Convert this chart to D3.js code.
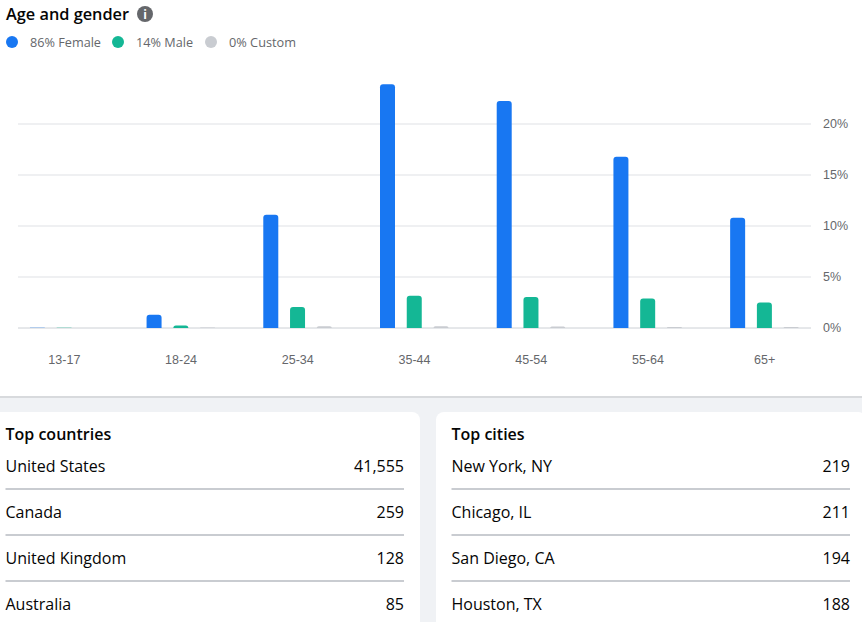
<!DOCTYPE html>
<html>
<head>
<meta charset="utf-8">
<script src="https://cdn.jsdelivr.net/npm/d3@7"></script>
<style>
  html, body { margin: 0; padding: 0; background: #f0f2f5; overflow: hidden; }
  svg { display: block; font-family: "Open Sans", "Noto Sans", sans-serif; }
</style>
</head>
<body>
<div id="chart"></div>
<script>
// values
const ageGroups = ["13-17", "18-24", "25-34", "35-44", "45-54", "55-64", "65+"];
const female = [0.02, 1.3, 11.1, 23.9, 22.25, 16.8, 10.8];
const male = [0.02, 0.25, 2.05, 3.15, 3.05, 2.9, 2.5];
const custom = [0, 0.05, 0.18, 0.18, 0.15, 0.1, 0.1];
const yTicks = [0, 5, 10, 15, 20];

const legendLabels = ["86% Female", "14% Male", "0% Custom"];
const seriesColors = ["#1877f2", "#14b795", "#c9ccd1"];

const countries = ["United States", "Canada", "United Kingdom", "Australia"];
const countryCounts = [41555, 259, 128, 85];
const cities = ["New York, NY", "Chicago, IL", "San Diego, CA", "Houston, TX"];
const cityCounts = [219, 211, 194, 188];

const width = 862;
const height = 622;
const textGray = "#65676b";

const svg = d3.select("#chart")
    .append("svg")
    .attr("width", width)
    .attr("height", height)
    .attr("viewBox", `0 0 ${width} ${height}`);

// page background and top panel
svg.append("rect").attr("width", width).attr("height", height).attr("fill", "#f0f2f5");
svg.append("rect").attr("y", 396).attr("width", width).attr("height", 2).attr("fill", "#d8dadd");
svg.append("rect").attr("width", width).attr("height", 396).attr("fill", "#fff");

// title
svg.append("text")
    .attr("x", 6).attr("y", 20)
    .attr("font-size", 16).attr("font-weight", 600).attr("fill", "#050505")
    .attr("textLength", 123).attr("lengthAdjust", "spacingAndGlyphs")
    .text("Age and gender");
svg.append("circle").attr("cx", 145).attr("cy", 14).attr("r", 8).attr("fill", "#65676b");
svg.append("text")
    .attr("x", 145).attr("y", 18.5).attr("text-anchor", "middle")
    .attr("font-size", 12).attr("font-weight", 700).attr("fill", "#fff")
    .text("i");

// legend
const legendX = [12, 118, 211];
const legendTextWidth = [71, 57, 67];
const legend = svg.append("g").selectAll("g")
    .data(legendLabels)
    .join("g")
    .attr("transform", (d, i) => `translate(${legendX[i]},42)`);
legend.append("circle").attr("r", 6).attr("fill", (d, i) => seriesColors[i]);
legend.append("text")
    .attr("x", 18).attr("y", 4.5)
    .attr("font-size", 12).attr("font-weight", 500).attr("fill", textGray)
    .attr("textLength", (d, i) => legendTextWidth[i]).attr("lengthAdjust", "spacingAndGlyphs")
    .text(d => d);

// scales
const x = d3.scaleBand().domain(ageGroups).range([6, 823]);
const y = d3.scaleLinear().domain([0, 20]).range([328, 124]);
const seriesX = d3.scalePoint().domain([0, 1, 2]).range([-27, 26.5]);
const barWidth = 15;

// axes
const yAxis = svg.append("g")
    .attr("transform", "translate(811,-0.5)")
    .call(d3.axisRight(y).tickValues(yTicks).tickFormat(d => `${d}%`).tickSize(-793).tickPadding(12));
yAxis.select(".domain").remove();
yAxis.selectAll("line").attr("stroke", d => d === 0 ? "#ccd0d5" : "#dfe1e5").attr("stroke-width", 1);
yAxis.selectAll("text").attr("font-size", 12.5).attr("font-family", "inherit").attr("fill", textGray);

const xAxis = svg.append("g")
    .attr("transform", "translate(0,328)")
    .call(d3.axisBottom(x).tickSize(0).tickPadding(27));
xAxis.select(".domain").remove();
xAxis.selectAll("text").attr("font-size", 12.5).attr("font-family", "inherit").attr("fill", textGray);

// bars, rounded on top only
function barPath(cx, v) {
    const top = y(v);
    const h = y(0) - top;
    const left = cx - barWidth / 2;
    const r = Math.min(3, h);
    return `M${left},${y(0)}V${top + r}Q${left},${top} ${left + r},${top}` +
        `H${left + barWidth - r}Q${left + barWidth},${top} ${left + barWidth},${top + r}V${y(0)}Z`;
}
[female, male, custom].forEach((values, s) => {
    svg.append("g").selectAll("path")
        .data(values)
        .join("path")
        .attr("d", (d, i) => barPath(x(ageGroups[i]) + x.bandwidth() / 2 + seriesX(s), d))
        .attr("fill", seriesColors[s]);
});

// bottom tables
function drawCard(left, right, title, names, counts) {
    const card = svg.append("g");
    card.append("rect")
        .attr("x", left).attr("y", 412)
        .attr("width", right - left).attr("height", 240)
        .attr("rx", 8).attr("fill", "#fff");
    const textLeft = Math.max(left, 0) + (left < 0 ? 5.5 : 15.5);
    const textRight = right - 16;
    card.append("text")
        .attr("x", textLeft).attr("y", 440)
        .attr("font-size", 16).attr("font-weight", 600).attr("fill", "#050505")
        .text(title);
    const rowY = d3.scaleLinear().domain([0, 1]).range([472, 518]);
    const fmt = d3.format(",");
    names.forEach((name, i) => {
        card.append("text")
            .attr("x", textLeft).attr("y", rowY(i))
            .attr("font-size", 16).attr("fill", "#050505")
            .text(name);
        card.append("text")
            .attr("x", textRight).attr("y", rowY(i)).attr("text-anchor", "end")
            .attr("font-size", 16).attr("fill", "#050505")
            .text(fmt(counts[i]));
        if (i < names.length - 1) {
            card.append("line")
                .attr("x1", textLeft).attr("x2", textRight)
                .attr("y1", rowY(i) + 17).attr("y2", rowY(i) + 17)
                .attr("stroke", "#c9ccd1").attr("stroke-width", 2);
        }
    });
}
drawCard(-20, 420, "Top countries", countries, countryCounts);
drawCard(436, 866, "Top cities", cities, cityCounts);
</script>
</body>
</html>
